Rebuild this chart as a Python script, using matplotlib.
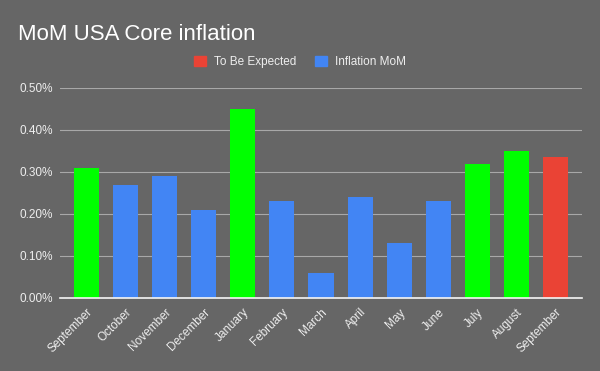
import matplotlib.pyplot as plt
from matplotlib.patches import Patch
from matplotlib.ticker import FuncFormatter

plt.rcParams['font.family'] = ['Liberation Sans', 'DejaVu Sans']

months = ['September', 'October', 'November', 'December', 'January', 'February',
          'March', 'April', 'May', 'June', 'July', 'August', 'September']
mom = [0.31, 0.27, 0.29, 0.21, 0.45, 0.23, 0.06, 0.24, 0.13, 0.23, 0.32, 0.35, 0.335]
# 'high' = green highlight, 'normal' = blue, 'expected' = red
kind = ['high', 'normal', 'normal', 'normal', 'high', 'normal', 'normal',
        'normal', 'normal', 'normal', 'high', 'high', 'expected']

bg = '#666666'
colors = {'high': '#00ff00', 'normal': '#4285f4', 'expected': '#ea4335'}

fig = plt.figure(figsize=(6, 3.71), dpi=100, facecolor=bg)
ax = fig.add_axes([60 / 600, 1 - 298 / 371, 522 / 600, 210 / 371], facecolor=bg)

x = range(len(months))
ax.bar(x, mom, width=0.64, color=[colors[k] for k in kind], zorder=3)

ax.set_xlim(-0.68, len(months) - 1 + 0.68)
ax.set_ylim(0, 0.5)
ax.set_yticks([0, 0.1, 0.2, 0.3, 0.4, 0.5])
ax.yaxis.set_major_formatter(FuncFormatter(lambda v, p: f'{v:.2f}%'))
ax.grid(axis='y', color='#a8a8a8', linewidth=0.8, zorder=0)
ax.set_xticks(list(x))
ax.set_xticklabels(months, rotation=45, ha='right', rotation_mode='anchor')
ax.tick_params(axis='both', length=0, colors='#eeeeee', labelsize=8.5)
ax.tick_params(axis='y', pad=5)
ax.tick_params(axis='x', pad=6)
for s in ['top', 'right', 'left']:
    ax.spines[s].set_visible(False)
ax.spines['bottom'].set_color('#f5f5f5')
ax.spines['bottom'].set_linewidth(1.2)
ax.spines['bottom'].set_zorder(4)

fig.text(18 / 600, 1 - 35 / 371, 'MoM USA Core inflation', color='white',
         fontsize=16, va='center', ha='left')

handles = [Patch(color=colors['expected'], label='To Be Expected'),
           Patch(color=colors['normal'], label='Inflation MoM')]
fig.legend(handles=handles, loc='center', bbox_to_anchor=(0.5, 1 - 62 / 371),
           ncol=2, frameon=False, fontsize=8.5, labelcolor='#eeeeee',
           handlelength=1.0, handleheight=1.0, columnspacing=1.6, handletextpad=0.7)

fig.savefig('out.png', dpi=100, facecolor=bg)
